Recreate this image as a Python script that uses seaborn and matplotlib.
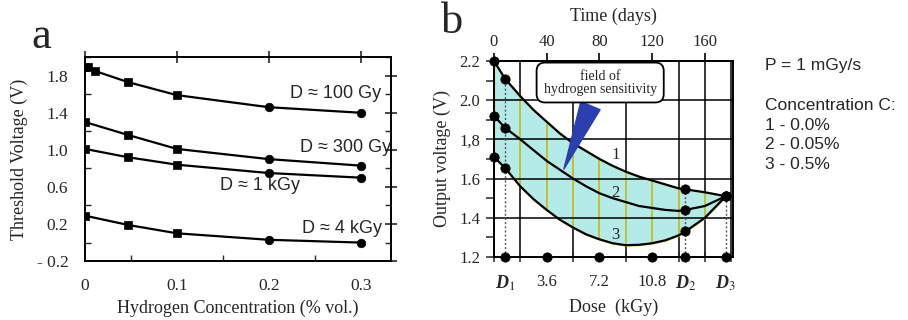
import numpy as np
import pandas as pd
import matplotlib.pyplot as plt
import seaborn as sns
from matplotlib.ticker import FixedLocator, MultipleLocator

# ---- panel a: threshold voltage vs hydrogen concentration ----
conc_100 = [0, 0.003, 0.011, 0.047, 0.1, 0.2, 0.3]
v_100gy = [1.89, 1.89, 1.85, 1.73, 1.59, 1.46, 1.40]
conc = [0, 0.047, 0.1, 0.2, 0.3]
v_300gy = [1.30, 1.16, 1.01, 0.90, 0.83]
v_1kgy = [1.01, 0.92, 0.84, 0.75, 0.70]
v_4kgy = [0.29, 0.19, 0.10, 0.03, 0.0]
dose_names = ['D ≈ 100 Gy', 'D ≈ 300 Gy', 'D ≈ 1 kGy', 'D ≈ 4 kGy']
name_x = [0.223, 0.234, 0.147, 0.236]
name_y = [1.61, 1.02, 0.62, 0.15]
a_yticks = [-0.2, 0.2, 0.6, 1.0, 1.4, 1.8]
a_yticklabels = ['- 0.2', '0.2', '0.6', '1.0', '1.4', '1.8']
a_xticks = [0, 0.1, 0.2, 0.3]
a_xticklabels = ['0', '0.1', '0.2', '0.3']

# ---- panel b: output voltage vs dose ----
dose = [0, 0.75, 1.8, 2.7, 3.6, 4.5, 5.4, 6.3, 7.2, 8.1, 9.0, 9.9, 10.8,
        11.7, 12.6, 13.07, 14.4, 15.83]
out_c1 = [2.20, 2.11, 2.02, 1.95, 1.89, 1.83, 1.78, 1.74, 1.70, 1.665, 1.635,
          1.61, 1.59, 1.57, 1.55, 1.545, 1.53, 1.51]
out_c2 = [1.92, 1.86, 1.80, 1.745, 1.69, 1.645, 1.60, 1.56, 1.525, 1.50, 1.48,
          1.46, 1.45, 1.44, 1.435, 1.44, 1.46, 1.51]
out_c3 = [1.71, 1.655, 1.56, 1.495, 1.44, 1.39, 1.35, 1.315, 1.29, 1.27, 1.26,
          1.262, 1.27, 1.285, 1.31, 1.33, 1.40, 1.51]
marked_dose = [0, 0.75, 13.07, 15.83]
axis_dots = [0.75, 3.6, 7.2, 10.8, 13.07, 15.83]
dose_ticks = [0.75, 3.6, 7.2, 10.8, 13.07, 15.83]
dose_ticklabels = ['D$_1$', '3.6', '7.2', '10.8', 'D$_2$', 'D$_3$']
day_ticks = [0, 40, 80, 120, 160]
volt_ticks = [1.2, 1.4, 1.6, 1.8, 2.0, 2.2]
volt_ticklabels = ['1.2', '1.4', '1.6', '1,8', '2.0', '2.2']
curve_ids = ['1', '2', '3']
curve_label_y = [1.72, 1.525, 1.31]
info_lines = ['P = 1 mGy/s', '', 'Concentration C:', '1 - 0.0%', '2 - 0.05%', '3 - 0.5%']

days_per_kgy = 40 / 3.6

sns.set_theme(style='white')
plt.rcParams['font.family'] = ['Liberation Serif', 'DejaVu Serif']
plt.rcParams['mathtext.fontset'] = 'stix'
SANS = ['Liberation Sans', 'DejaVu Sans']

fig = plt.figure(figsize=(9.08, 3.2), dpi=100)

# ================= panel a =================
axa = fig.add_axes([0.0936, 0.184, 0.337, 0.6375])
series = [(conc_100, v_100gy), (conc, v_300gy), (conc, v_1kgy), (conc, v_4kgy)]
for xs, ys in series:
    df = pd.DataFrame({'c': xs, 'v': ys})
    sns.lineplot(data=df, x='c', y='v', ax=axa, color='black', lw=1.6,
                 sort=False)
    sq = df[df['c'] <= 0.1]
    ci = df[df['c'] > 0.1]
    sns.scatterplot(data=sq, x='c', y='v', ax=axa, marker='s', s=38,
                    color='black', edgecolor='black', zorder=3)
    sns.scatterplot(data=ci, x='c', y='v', ax=axa, marker='o', s=38,
                    color='black', edgecolor='black', zorder=3)
for name, tx, ty in zip(dose_names, name_x, name_y):
    axa.text(tx, ty, name, family=SANS, fontsize=13, va='center', ha='left')

axa.set_xlim(0, 0.333)
axa.set_ylim(-0.2, 2.0)
axa.set_yticks(a_yticks)
axa.set_yticklabels(a_yticklabels, fontsize=12.5)
axa.yaxis.set_minor_locator(MultipleLocator(0.2))
axa.set_xticks(a_xticks)
axa.set_xticklabels(a_xticklabels, fontsize=12.5)
axa.xaxis.set_minor_locator(MultipleLocator(0.05))
axa.tick_params(which='major', direction='inout', length=8, width=1.2,
                top=True, right=True, pad=8)
axa.tick_params(which='minor', direction='in', length=4, width=1,
                top=False, right=True, left=True, bottom=True)
axa.set_xlabel('Hydrogen Concentration (% vol.)', fontsize=13, labelpad=4)
axa.set_ylabel('Threshold Voltage (V)', fontsize=13, labelpad=6)
for sp in axa.spines.values():
    sp.set_color('black')
    sp.set_linewidth(1.4)
fig.text(0.045, 0.85, 'a', fontsize=32, ha='center', va='baseline')

# ================= panel b =================
axb = fig.add_axes([0.544, 0.197, 0.263, 0.6125])
axb.set_xlim(0, 16.3)
axb.set_ylim(1.2, 2.2)

# grid underneath the sensitivity field
axb.xaxis.set_minor_locator(MultipleLocator(1.8))
axb.set_axisbelow(True)
axb.grid(which='minor', axis='x', color='black', lw=1.1)
axb.grid(which='major', axis='x', visible=False)

axb.fill_between(dose, out_c3, out_c1, color='#b4ebe8', edgecolor='#e6d84a',
                 lw=1.4, zorder=1)
# grid lines inside the field look yellow
inner = [i for i, d in enumerate(dose) if 0 < d < 16 and abs(d / 1.8 - round(d / 1.8)) < 1e-6]
axb.vlines([dose[i] for i in inner], [out_c3[i] for i in inner],
           [out_c1[i] for i in inner], color='#c9b400', lw=1.1, zorder=1.5)
for v in volt_ticks[1:-1]:
    axb.axhline(v, color='black', lw=1.1, zorder=1.6)

# dotted drop lines at D1, D2, D3
for d in marked_dose[1:]:
    i = dose.index(d)
    axb.vlines(d, 1.2, out_c1[i], color='#555555', lw=1, ls=(0, (1.5, 1.5)),
               zorder=1.7)

curves = pd.DataFrame({'dose': dose * 3,
                       'v': out_c1 + out_c2 + out_c3,
                       'c': sum([[k] * len(dose) for k in curve_ids], [])})
sns.lineplot(data=curves, x='dose', y='v', units='c', estimator=None,
             color='black', lw=1.6, ax=axb, sort=False, zorder=2)
pts = curves[curves['dose'].isin(marked_dose)]
sns.scatterplot(data=pts, x='dose', y='v', color='black', s=45,
                edgecolor='black', ax=axb, zorder=4, clip_on=False)
sns.scatterplot(x=axis_dots, y=[1.2] * len(axis_dots), color='black', s=45,
                edgecolor='black', ax=axb, zorder=4, clip_on=False)

for lab, ly in zip(curve_ids, curve_label_y):
    axb.text(8.3, ly, lab, fontsize=12, ha='center', va='center', zorder=5)

axb.annotate('field of\nhydrogen sensitivity', xy=(4.7, 1.635),
             xytext=(7.25, 2.09), fontsize=10, ha='center', va='center',
             linespacing=1.0, zorder=6,
             bbox=dict(boxstyle='round,pad=0.5,rounding_size=0.6',
                       fc='white', ec='black', lw=1.3),
             arrowprops=dict(arrowstyle='wedge,tail_width=1.5,shrink_factor=0.5',
                             fc='#2a3fb0', ec='#2a3fb0'))

axb.set_xticks(dose_ticks)
axb.set_xticklabels(dose_ticklabels, fontsize=12)
for t in axb.get_xticklabels():
    if t.get_text().startswith('D'):
        t.set_fontstyle('italic')
        t.set_fontweight('bold')
        t.set_fontsize(13)
axb.set_yticks(volt_ticks)
axb.set_yticklabels(volt_ticklabels, fontsize=12)
axb.yaxis.set_minor_locator(MultipleLocator(0.1))
axb.tick_params(which='major', axis='x', length=0, pad=12)
axb.tick_params(which='minor', axis='x', direction='inout', length=7,
                width=1.1, bottom=True)
axb.tick_params(which='major', axis='y', direction='out', length=6,
                width=1.1, left=True, pad=4)
axb.tick_params(which='minor', axis='y', direction='out', length=6,
                width=1.1, left=True)
axb.set_xlabel('Dose  (kGy)', fontsize=13, labelpad=4)
axb.set_ylabel('Output voltage (V)', fontsize=13, labelpad=6)
for sp in axb.spines.values():
    sp.set_color('black')
    sp.set_linewidth(1.4)

top = axb.secondary_xaxis('top', functions=(lambda d: d * days_per_kgy,
                                            lambda t: t / days_per_kgy))
top.set_xticks(day_ticks)
top.set_xticklabels([str(t) for t in day_ticks], fontsize=12)
top.tick_params(direction='out', length=6, width=1.4, pad=2)
top.set_xlabel('Time (days)', fontsize=13, labelpad=9)
fig.text(0.498, 0.897, 'b', fontsize=32, ha='center', va='baseline')

# ---- conditions text ----
for k, line in enumerate(info_lines):
    fig.text(0.842, 0.795 - k * 0.062, line, family=SANS, fontsize=12.5,
             ha='left', va='center')

fig.savefig('out.png', dpi=100)
